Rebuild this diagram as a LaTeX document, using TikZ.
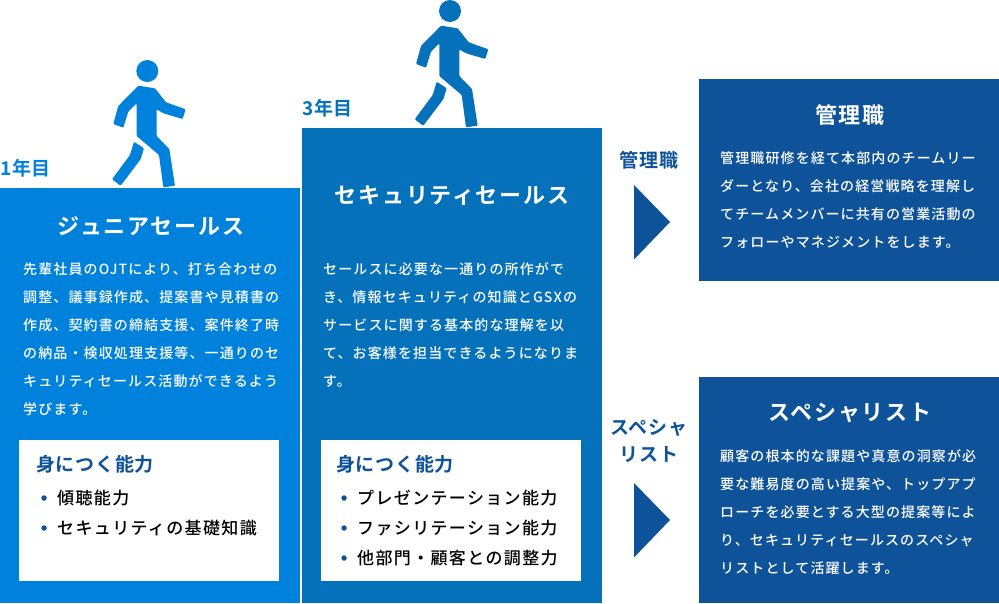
\documentclass[tikz,border=0pt]{standalone}
\usepackage{fontspec}
\usepackage{xcolor}
\usepackage{tikz}
\usetikzlibrary{positioning,calc}
\setmainfont{Noto Sans CJK JP}[BoldFont={Noto Sans CJK JP Bold}]
\newfontfamily\bodyfont{Noto Sans CJK JP Medium}[LetterSpace=8]
\newfontfamily\headfont{Noto Sans CJK JP Bold}[LetterSpace=8]
\newfontfamily\labelfont{Noto Sans CJK JP Bold}[LetterSpace=4]
\newfontfamily\itemfont{Noto Sans CJK JP Medium}[LetterSpace=8]
\definecolor{cJunior}{HTML}{0082DC}
\definecolor{cSales}{HTML}{0571BB}
\definecolor{cLead}{HTML}{0E5299}
\tikzset{
  x=1pt, y=-1pt,
  panel/.style={draw=none, fill=#1, inner sep=0pt, anchor=north west},
  skillbox/.style={draw=none, fill=white, inner sep=0pt, anchor=north west, minimum width=260pt, minimum height=141pt},
  yearlabel/.style={text=#1, font=\fontsize{19}{20}\labelfont, inner sep=0pt, anchor=west},
  paneltitle/.style={text=white, font=\fontsize{22}{24}\headfont, inner sep=0pt},
  paneltext/.style={text=white, font=\fontsize{14}{28}\bodyfont, align=left, inner sep=0pt, anchor=north west},
  skilltitle/.style={text=cLead, font=\fontsize{19}{20}\labelfont, inner sep=0pt, anchor=west},
  skillitem/.style={text=black, font=\fontsize{17}{20}\itemfont, inner sep=0pt, anchor=west},
  skilldot/.style={circle, fill=cLead, inner sep=0pt, minimum size=5.5pt},
  pathlabel/.style={text=cLead, font=\fontsize{19}{27}\labelfont, align=center, inner sep=0pt},
  pics/walker/.style={code={
    \fill[#1] (0,0) circle (11);
    \fill[#1, rounded corners=1pt] (-9,14.7) -- (7.7,17.3) -- (18.7,31.3) -- (38.3,38.3) -- (35.3,48) -- (16,42.3) -- (9.3,38.3) -- (9.3,65) -- (22,78) -- (27.7,114.7) -- (16,116.3) -- (11.7,84) -- (-10.7,65) -- (-10.7,32.3) -- (-19,40.7) -- (-24,56.7) -- (-34,53) -- (-29,35) -- cycle;
    \fill[#1, rounded corners=1pt] (-13.3,70.7) -- (-3.3,77.3) -- (-6.7,88.3) -- (-26.7,114.7) -- (-35.3,108.3) -- (-17.3,84) -- cycle;
  }},
}
\begin{document}
\begin{tikzpicture}
\useasboundingbox (0,0) rectangle (999,603);
% panels
\node[panel=cJunior, minimum width=300pt, minimum height=415pt] (junior) at (0,188) {};
\node[panel=cSales, minimum width=300pt, minimum height=475pt] (sales) at (302,128) {};
\node[panel=cLead, minimum width=300pt, minimum height=202pt] (manager) at (699,79) {};
\node[panel=cLead, minimum width=300pt, minimum height=226pt] (specialist) at (699,377) {};
% walkers
\pic at (147.3,71) {walker=cJunior};
\pic at (450,11) {walker=cSales};
\node[yearlabel=cJunior] (yearone) at (0,168) {1年目};
\node[yearlabel=cSales] (yearthree) at (302,108) {3年目};
% titles
\node[paneltitle] (juniortitle) at (151,226) {ジュニアセールス};
\node[paneltitle] (salestitle) at (452,196) {セキュリティセールス};
\node[paneltitle] (managertitle) at (850,115) {管理職};
\node[paneltitle] (specialisttitle) at (850,413) {スペシャリスト};
% body text
\node[paneltext] (juniortext) at (23,262) {先輩社員のOJTにより、打ち合わせの\\調整、議事録作成、提案書や見積書の\\作成、契約書の締結支援、案件終了時\\の納品・検収処理支援等、一通りのセ\\キュリティセールス活動ができるよう\\学びます。};
\node[paneltext] (salestext) at (323,262) {セールスに必要な一通りの所作がで\\き、情報セキュリティの知識とGSXの\\サービスに関する基本的な理解を以\\て、お客様を担当できるようになりま\\す。};
\node[paneltext] (managertext) at (720,151) {管理職研修を経て本部内のチームリー\\ダーとなり、会社の経営戦略を理解し\\てチームメンバーに共有の営業活動の\\フォローやマネジメントをします。};
\node[paneltext] (specialisttext) at (720,449) {顧客の根本的な課題や真意の洞察が必\\要な難易度の高い提案や、トップアプ\\ローチを必要とする大型の提案等によ\\り、セキュリティセールスのスペシャ\\リストとして活躍します。};
% skills
\node[skillbox] (juniorskill) at (19,440) {};
\node[skilltitle] (juniorhead) at (36,464) {身につく能力};
\node[skillitem] (juniorone) at (57,498) {傾聴能力};
\node[skillitem] (juniortwo) at (57,528) {セキュリティの基礎知識};
\node[skilldot, left=10pt of juniorone] (dotone) {};
\node[skilldot, left=10pt of juniortwo] (dottwo) {};
\node[skillbox] (salesskill) at (321,440) {};
\node[skilltitle] (saleshead) at (336,464) {身につく能力};
\node[skillitem] (salesone) at (357,498) {プレゼンテーション能力};
\node[skillitem] (salestwo) at (357,528) {ファシリテーション能力};
\node[skillitem] (salesthree) at (357,558) {他部門・顧客との調整力};
\node[skilldot, left=10pt of salesone] (dotthree) {};
\node[skilldot, left=10pt of salestwo] (dotfour) {};
\node[skilldot, left=10pt of salesthree] (dotfive) {};
% career paths
\node[pathlabel] (managerlabel) at (649,160) {管理職};
\node[pathlabel] (specialistlabel) at (649,441) {スペシャ\\リスト};
\fill[cLead] (634,185) -- (670,222) -- (634,259.5) -- cycle;
\fill[cLead] (634,483) -- (670,520) -- (634,557.5) -- cycle;
\end{tikzpicture}
\end{document}
